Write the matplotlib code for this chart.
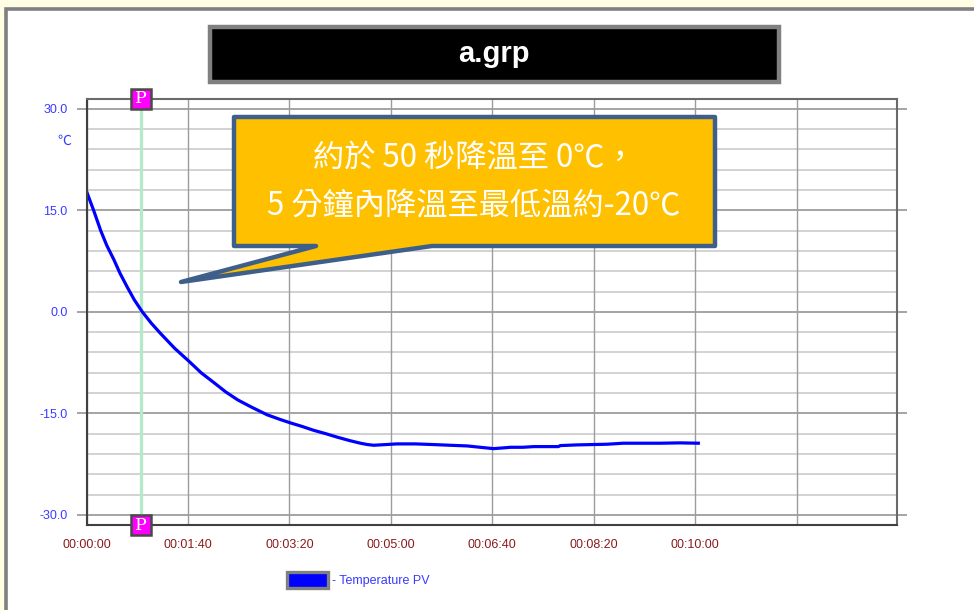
import matplotlib
matplotlib.use("Agg")
import matplotlib.pyplot as plt
import matplotlib.patches as mpatches
from matplotlib.path import Path
import numpy as np

# Recorded trace: elapsed seconds and temperature (degC)
time_s = [0, 7, 14, 20, 27, 33, 40, 47, 55, 64, 73, 87, 101, 113, 126, 137,
          149, 163, 178, 191, 201, 212, 224, 236, 247, 259, 270, 277, 283,
          295, 306, 324, 342, 358, 375, 388, 401, 410, 418, 430, 441, 453,
          465, 467, 483, 498, 513, 529, 545, 565, 585, 603]
temp_pv = [17.8, 15.0, 12.0, 9.8, 7.7, 5.7, 3.7, 1.8, 0.0, -1.7, -3.2, -5.4,
           -7.3, -9.0, -10.5, -11.8, -13.0, -14.1, -15.2, -15.9, -16.4, -16.9,
           -17.5, -18.0, -18.5, -19.0, -19.4, -19.6, -19.7, -19.6, -19.5,
           -19.5, -19.6, -19.7, -19.8, -20.0, -20.2, -20.1, -20.0, -20.0,
           -19.9, -19.9, -19.9, -19.75, -19.65, -19.6, -19.55, -19.4, -19.4,
           -19.4, -19.35, -19.4]

series_name = "- Temperature PV"
chart_title = "a.grp"
unit_label = "℃"
cursor_time = 54
y_major = [-30, -15, 0, 15, 30]
y_minor_step = 3
x_grid = [0, 100, 200, 300, 400, 500, 600, 700]
x_labelled = [0, 100, 200, 300, 400, 500, 600]
note_lines = ["約於 50 秒降溫至 0℃，", "5 分鐘內降溫至最低溫約-20℃"]

W, H = 974, 610
fig = plt.figure(figsize=(W / 100, H / 100), dpi=100)
fig.patch.set_facecolor("#fffde3")

# pixel-space layer behind the chart (window frame)
bg = fig.add_axes([0, 0, 1, 1], zorder=-5)
bg.set_xlim(0, W)
bg.set_ylim(H, 0)
bg.axis("off")
bg.add_patch(mpatches.Rectangle((6, 8.5), 1100, 700, facecolor="white",
                                edgecolor="#808080", linewidth=2.6))

# title plate
bg.add_patch(mpatches.Rectangle((210, 27), 569, 55, facecolor="black",
                                edgecolor="#808080", linewidth=3.2))
bg.text(494, 54.5, chart_title, color="white", fontsize=21, fontweight="bold",
        family="Liberation Sans", ha="center", va="center")

# main chart axes
left, right, top, bottom = 86.5, 896.7, 98.7, 525.0
ax = fig.add_axes([left / W, (H - bottom) / H, (right - left) / W, (bottom - top) / H])
ax.set_facecolor("white")
ax.set_xlim(0, 798.5)
ypad = 10 / 6.767
ax.set_ylim(-30 - ypad, 30 + ypad)

# grid
for yv in np.arange(-30, 30 + 0.1, y_minor_step):
    if yv in y_major:
        continue
    ax.axhline(yv, color="#cfcfcf", linewidth=1.3, zorder=1)
for yv in y_major:
    ax.axhline(yv, color="#8c8c8c", linewidth=1.1, zorder=1.5)
for xv in x_grid:
    ax.axvline(xv, color="#9c9c9c", linewidth=1.0, zorder=1.5)

# cursor line
ax.axvline(cursor_time, color="#b6e8c9", linewidth=2.4, zorder=2)

# trace
ax.plot(time_s, temp_pv, color="#0000ff", linewidth=2.3, zorder=3,
        solid_joinstyle="round", label=series_name)

# ticks
ax.set_yticks(y_major)
ax.set_yticklabels([f"{v:.1f}" for v in y_major])
ax.tick_params(axis="y", which="both", direction="out", length=7.2, width=1.1,
               color="#8c8c8c", left=True, right=True, pad=6.5,
               labelcolor="#3a3aff", labelsize=9)
ax.set_xticks(x_labelled)
ax.set_xticklabels([f"{v // 3600:02d}:{(v % 3600) // 60:02d}:{v % 60:02d}" for v in x_labelled])
ax.tick_params(axis="x", length=0, pad=10.0, labelcolor="#8b1a1a", labelsize=9)
for lab in ax.get_xticklabels() + ax.get_yticklabels():
    lab.set_family("Liberation Sans")

for side in ["left", "bottom"]:
    ax.spines[side].set_color("#404040")
    ax.spines[side].set_linewidth(1.5)
for side in ["top", "right"]:
    ax.spines[side].set_color("#6a6a6a")
    ax.spines[side].set_linewidth(1.5)
for sp in ax.spines.values():
    sp.set_zorder(4)

# cursor flags on the top and bottom edges
xt = ax.get_xaxis_transform()
for yfrac in (1.0, 0.0):
    ax.plot([cursor_time], [yfrac], transform=xt, marker="s", markersize=14.2,
            markerfacecolor="#ff00ff", markeredgecolor="#4a4a4a",
            markeredgewidth=1.8, clip_on=False, zorder=6)
    ax.text(cursor_time, yfrac, "P", transform=xt, ha="center", va="center",
            color="white", fontsize=12.5, family="DejaVu Serif", zorder=7,
            clip_on=False)

# legend
handle = mpatches.Patch(facecolor="#0000ff", edgecolor="#808080",
                        linewidth=2.4, label=series_name)
leg = fig.legend(handles=[handle], loc="upper left",
                 bbox_to_anchor=(287 / W, 1 - 572 / H), frameon=False,
                 borderpad=0, borderaxespad=0, handlelength=3.25,
                 handleheight=1.55, handletextpad=0.35,
                 prop={"family": "Liberation Sans", "size": 9})
for txt in leg.get_texts():
    txt.set_color("#3a3aff")

# pixel-space layer in front (unit label and callout)
fg = fig.add_axes([0, 0, 1, 1], zorder=10)
fg.set_xlim(0, W)
fg.set_ylim(H, 0)
fg.axis("off")
fg.text(64, 141, unit_label, color="#3a3aff", fontsize=10,
        family=["Noto Sans CJK TC", "DejaVu Sans"], ha="center", va="center")

verts = [(234, 117), (715, 117), (715, 246), (432, 246), (181, 282),
         (316, 246), (234, 246), (234, 117)]
codes = [Path.MOVETO] + [Path.LINETO] * 6 + [Path.CLOSEPOLY]
fg.add_patch(mpatches.PathPatch(Path(verts, codes), facecolor="#ffc000",
                                edgecolor="#3f5f8b", linewidth=3.2,
                                joinstyle="round"))
fg.text(474, 158, note_lines[0], color="white", fontsize=22.5,
        family=["Noto Sans CJK TC", "DejaVu Sans"], fontweight="light",
        ha="center", va="center")
fg.text(474, 207, note_lines[1], color="white", fontsize=22.5,
        family=["Noto Sans CJK TC", "DejaVu Sans"], fontweight="light",
        ha="center", va="center")

fig.savefig("out.png", dpi=100)
